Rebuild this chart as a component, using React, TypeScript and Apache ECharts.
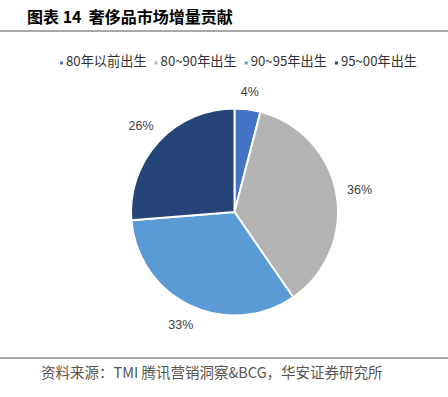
import React, { useEffect, useRef } from "react";
import * as echarts from "echarts";

const categories = ["80年以前出生", "80~90年出生", "90~95年出生", "95~00年出生"];
const values = [4, 36, 33, 26];
const colors = ["#4472C4", "#B3B3B3", "#5B9BD5", "#254478"];

const titleText = "图表 14  奢侈品市场增量贡献";
const sourceText = "资料来源：TMI 腾讯营销洞察&BCG，华安证券研究所";

const CX = 234.5;
const CY = 212;
const R = 103.5;
const LABEL_GAP = 10;

export default function App() {
  const ref = useRef<HTMLDivElement>(null);
  useEffect(() => {
    if (!ref.current) return;
    const chart = echarts.init(ref.current, null, { renderer: "svg" });
    const font = "'Noto Sans CJK SC', 'Helvetica', Arial, sans-serif";
    const total = values.reduce((a, b) => a + b, 0);
    const mids: number[] = [];
    let cum = 0;
    values.forEach((v) => {
      mids.push(((cum + v / 2) / total) * Math.PI * 2);
      cum += v;
    });
    chart.setOption({
      animation: false,
      backgroundColor: "#ffffff",
      color: colors,
      legend: {
        top: 48,
        left: 53,
        icon: "path://M0,0 M0,6.5h5v5h-5z M5,12",
        itemWidth: 5,
        itemHeight: 12,
        itemGap: 6,
        textStyle: {
          fontSize: 13.2,
          color: "#333333",
          fontFamily: font,
          padding: [0, 0, 0, -3],
        },
        data: categories,
      },
      graphic: [
        {
          type: "text",
          left: 27,
          top: 8,
          style: {
            text: titleText,
            font: "bold 16px 'Noto Sans CJK SC', Arial, sans-serif",
            fill: "#000000",
          },
        },
        {
          type: "line",
          shape: { x1: 0, y1: 31, x2: 448, y2: 31 },
          style: { stroke: "#8c8c8c", lineWidth: 1.5 },
        },
        {
          type: "line",
          shape: { x1: 0, y1: 358, x2: 448, y2: 358 },
          style: { stroke: "#8c8c8c", lineWidth: 1.5 },
        },
        {
          type: "text",
          left: 41,
          top: 364,
          style: {
            text: sourceText,
            font: "14.5px 'Noto Sans CJK SC', Arial, sans-serif",
            fill: "#58554f",
          },
        },
      ],
      series: [
        {
          type: "pie",
          center: [CX, CY],
          radius: [0, R],
          startAngle: 90,
          clockwise: true,
          data: categories.map((name, i) => ({ name, value: values[i] })),
          itemStyle: { borderColor: "#ffffff", borderWidth: 2 },
          label: {
            show: true,
            position: "outside",
            formatter: "{c}%",
            fontSize: 12.5,
            color: "#404040",
            fontFamily: "Helvetica, Arial, sans-serif",
          },
          labelLine: { show: false, length: 10, length2: 4 },
          labelLayout: (p: any) => {
            const t = mids[p.dataIndex];
            const s = Math.sin(t);
            const c = Math.cos(t);
            const w = p.labelRect.width;
            const h = p.labelRect.height;
            const ext = Math.abs(s) * (w / 2) + Math.abs(c) * (h / 2);
            const d = R + LABEL_GAP + ext;
            return {
              x: CX + d * s,
              y: CY - d * c,
              align: "center",
              verticalAlign: "middle",
            };
          },
          emphasis: { disabled: true },
        },
      ],
    });
    return () => chart.dispose();
  }, []);
  return (
    <div
      ref={ref}
      style={{ position: "fixed", left: 0, top: 0, width: 448, height: 397 }}
    />
  );
}
